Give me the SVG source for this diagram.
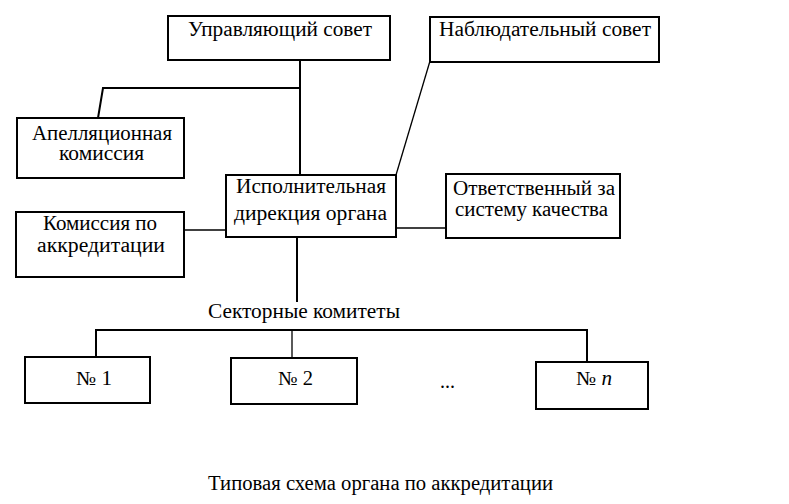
<svg xmlns="http://www.w3.org/2000/svg" width="789" height="504" viewBox="0 0 789 504">
<style>
.box{fill:#fff;stroke:#000;stroke-width:2}
.t{font-family:"Liberation Serif","Times New Roman","DejaVu Serif",serif;font-size:20px;fill:#000}
.ln{fill:none;stroke:#000;stroke-width:1.3}
.lb{fill:none;stroke:#000;stroke-width:2}
</style>
<rect width="789" height="504" fill="#fff"/>
<g id="connectors">
<line class="lb" x1="300" y1="60" x2="300" y2="175"/>
<polyline class="lb" points="300,88 103,88 98,118"/>
<line class="ln" x1="430" y1="61" x2="396" y2="175"/>
<line class="ln" x1="396" y1="228" x2="446" y2="228"/>
<line class="ln" x1="184" y1="230" x2="226" y2="230"/>
<line class="lb" x1="297" y1="237" x2="297" y2="302"/>
<polyline class="lb" points="96,357 96,330 587,330 587,362"/>
<line class="ln" x1="292" y1="330" x2="292" y2="358"/>
</g>
<g id="upravl">
<rect class="box" x="168" y="16" width="222" height="44"/>
<text class="t" x="188" y="36" textLength="184" lengthAdjust="spacingAndGlyphs">Управляющий совет</text>
</g>
<g id="nabl">
<rect class="box" x="430" y="17" width="229" height="45"/>
<text class="t" x="439" y="36" textLength="212" lengthAdjust="spacingAndGlyphs">Наблюдательный совет</text>
</g>
<g id="apell">
<rect class="box" x="17" y="118" width="167" height="60"/>
<text class="t" x="32" y="140" textLength="140" lengthAdjust="spacingAndGlyphs">Апелляционная</text>
<text class="t" x="59" y="160" textLength="85" lengthAdjust="spacingAndGlyphs">комиссия</text>
</g>
<g id="ispoln">
<rect class="box" x="226" y="175" width="170" height="62"/>
<text class="t" x="236" y="193" textLength="150" lengthAdjust="spacingAndGlyphs">Исполнительная</text>
<text class="t" x="234" y="220" textLength="153" lengthAdjust="spacingAndGlyphs">дирекция органа</text>
</g>
<g id="otvet">
<rect class="box" x="446" y="174" width="174" height="64"/>
<text class="t" x="453" y="195" textLength="162" lengthAdjust="spacingAndGlyphs">Ответственный за</text>
<text class="t" x="455" y="216" textLength="153" lengthAdjust="spacingAndGlyphs">систему качества</text>
</g>
<g id="komis">
<rect class="box" x="16" y="212" width="168" height="65"/>
<text class="t" x="43" y="230" textLength="114" lengthAdjust="spacingAndGlyphs">Комиссия по</text>
<text class="t" x="37" y="252" textLength="128" lengthAdjust="spacingAndGlyphs">аккредитации</text>
</g>
<g id="sektor">
<text class="t" x="208" y="318" textLength="192" lengthAdjust="spacingAndGlyphs">Секторные комитеты</text>
</g>
<g id="n1">
<rect class="box" x="25" y="357" width="125" height="46"/>
<text class="t" x="76" y="385" textLength="36" lengthAdjust="spacingAndGlyphs">№ 1</text>
</g>
<g id="n2">
<rect class="box" x="231" y="358" width="126" height="46"/>
<text class="t" x="278" y="385" textLength="35" lengthAdjust="spacingAndGlyphs">№ 2</text>
</g>
<g id="dots">
<text class="t" x="440" y="388">...</text>
</g>
<g id="nn">
<rect class="box" x="536" y="362" width="112" height="47"/>
<text class="t" x="576" y="385" textLength="36" lengthAdjust="spacingAndGlyphs">№ <tspan font-style="italic">n</tspan></text>
</g>
<g id="caption">
<text class="t" x="208" y="490" textLength="345" lengthAdjust="spacingAndGlyphs">Типовая схема органа по аккредитации</text>
</g>
</svg>
